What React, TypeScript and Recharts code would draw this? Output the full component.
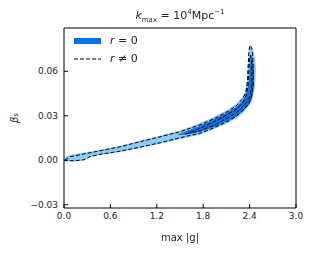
import React from "react";
import { ComposedChart, Area, Line, XAxis, YAxis, Label } from "recharts";

// Light (outer) filled region, r = 0 : vertical slices [low, high]
const lightX = [0.006, 0.052, 0.142, 0.233, 0.284, 0.362, 0.466, 0.724, 0.983, 1.241, 1.5, 1.759, 1.953, 2.121, 2.237, 2.315, 2.341, 2.36, 2.373, 2.379, 2.386, 2.405, 2.425, 2.444, 2.463, 2.476, 2.482];
const lightLow = [-0.0003, -0.0006, -0.0008, -0.0004, 0.001, 0.0026, 0.0035, 0.0055, 0.0082, 0.0112, 0.0142, 0.0172, 0.0212, 0.0252, 0.0286, 0.032, 0.0335, 0.0347, 0.0355, 0.036, 0.0364, 0.0378, 0.0398, 0.0425, 0.047, 0.0535, 0.061];
const lightHigh = [0.0012, 0.0032, 0.0042, 0.005, 0.0054, 0.0061, 0.0069, 0.0097, 0.0131, 0.0166, 0.0201, 0.0252, 0.0297, 0.0343, 0.0384, 0.0432, 0.0462, 0.0505, 0.057, 0.064, 0.0715, 0.0772, 0.0766, 0.0742, 0.071, 0.0665, 0.0635];

// Dark (inner) filled region, r = 0
const darkX = [1.474, 1.629, 1.759, 1.953, 2.121, 2.237, 2.315, 2.366, 2.392, 2.405, 2.418, 2.431, 2.444, 2.457];
const darkLow = [0.0168, 0.0177, 0.019, 0.0226, 0.0266, 0.0299, 0.0333, 0.036, 0.0374, 0.0388, 0.0402, 0.0422, 0.0455, 0.0503];
const darkHigh = [0.0173, 0.0205, 0.0233, 0.028, 0.0325, 0.0362, 0.0403, 0.0462, 0.0545, 0.0645, 0.0712, 0.0698, 0.0665, 0.061];

// Dashed contours, r != 0 (closed paths)
const outerDashX = [0.013, 0.078, 0.207, 0.466, 0.724, 0.983, 1.241, 1.5, 1.759, 1.953, 2.121, 2.237, 2.315, 2.354, 2.373, 2.379, 2.386, 2.392, 2.405, 2.425, 2.437, 2.444, 2.45, 2.444, 2.425, 2.392, 2.328, 2.237, 2.121, 1.953, 1.759, 1.5, 1.241, 0.983, 0.724, 0.466, 0.336, 0.259, 0.142, 0.013, 0.013];
const outerDashY = [0.0003, 0.0024, 0.0037, 0.0064, 0.0091, 0.0125, 0.0158, 0.0192, 0.0239, 0.0283, 0.033, 0.0371, 0.0418, 0.0465, 0.0539, 0.062, 0.0687, 0.0741, 0.0775, 0.0762, 0.0728, 0.066, 0.0573, 0.0499, 0.0431, 0.0384, 0.0344, 0.03, 0.0263, 0.0222, 0.0182, 0.0152, 0.0118, 0.0088, 0.0061, 0.004, 0.0024, 0.0003, -0.0003, -0.0003, 0.0003];
const innerDashX = [1.565, 1.759, 1.953, 2.121, 2.237, 2.315, 2.354, 2.379, 2.392, 2.399, 2.412, 2.425, 2.431, 2.425, 2.399, 2.341, 2.25, 2.121, 1.953, 1.759, 1.565];
const innerDashY = [0.0175, 0.0216, 0.0263, 0.031, 0.0347, 0.0391, 0.0438, 0.0506, 0.0607, 0.0687, 0.0708, 0.066, 0.0573, 0.0485, 0.0425, 0.0377, 0.033, 0.0286, 0.0239, 0.0199, 0.0175];

const xTicks = [0, 0.6, 1.2, 1.8, 2.4, 3.0];
const yTicks = [-0.03, 0, 0.03, 0.06];

const LIGHT = "#8ccbf5";
const DARK = "#0a72e8";
const FONT = "DejaVu Sans";
const DASH = "4 2";

const lightData = lightX.map((x, i) => ({ x, r: [lightLow[i], lightHigh[i]] }));
const darkData = darkX.map((x, i) => ({ x, r: [darkLow[i], darkHigh[i]] }));
const outerData = outerDashX.map((x, i) => ({ x, y: outerDashY[i] }));
const innerData = innerDashX.map((x, i) => ({ x, y: innerDashY[i] }));

const fmtY = (v: number) => (v < 0 ? "\u2212" + Math.abs(v).toFixed(2) : v.toFixed(2));
const fmtX = (v: number) => v.toFixed(1);

const tickStyle = { fontFamily: FONT, fontSize: 9, fill: "#222" };

const YLabel = (props: any) => {
  const vb = props.viewBox || {};
  const cy = vb.y + vb.height / 2;
  const cx = 14;
  return (
    <text x={cx} y={cy} transform={`rotate(-90 ${cx} ${cy})`} textAnchor="middle" dominantBaseline="central" fontFamily={FONT} fontSize={10} fill="#222">
      <tspan fontStyle="italic">β</tspan>
      <tspan fontStyle="italic" fontSize={7} dy={2}>s</tspan>
    </text>
  );
};

export default function App() {
  return (
    <div style={{ position: "fixed", left: 0, top: 0, width: 314, height: 253, background: "#fff" }}>
      <ComposedChart width={314} height={253} margin={{ top: 27, right: 17, bottom: 15, left: 14 }}>
        <XAxis
          xAxisId={0}
          dataKey="x"
          type="number"
          domain={[0, 3]}
          ticks={xTicks}
          tickFormatter={fmtX}
          allowDataOverflow
          height={30}
          stroke="#000"
          tickSize={-4}
          tickMargin={9}
          tick={tickStyle}
          axisLine={{ stroke: "#000", strokeWidth: 1 }}
          tickLine={{ stroke: "#000" }}
        />
        <XAxis
          xAxisId="top"
          orientation="top"
          dataKey="x"
          type="number"
          domain={[0, 3]}
          ticks={xTicks}
          height={1}
          tick={false}
          tickSize={-4}
          stroke="#000"
          axisLine={{ stroke: "#000", strokeWidth: 1 }}
          tickLine={{ stroke: "#000" }}
        />
        <YAxis
          yAxisId={0}
          type="number"
          domain={[-0.0322, 0.0892]}
          ticks={yTicks}
          tickFormatter={fmtY}
          allowDataOverflow
          width={50}
          tickSize={-4}
          tickMargin={10}
          tick={tickStyle}
          axisLine={{ stroke: "#000", strokeWidth: 1 }}
          tickLine={{ stroke: "#000" }}
        >
          <Label content={YLabel} />
        </YAxis>
        <YAxis
          yAxisId="right"
          orientation="right"
          type="number"
          domain={[-0.0322, 0.0892]}
          ticks={yTicks}
          width={1}
          tick={false}
          tickSize={-4}
          stroke="#000"
          axisLine={{ stroke: "#000", strokeWidth: 1 }}
          tickLine={{ stroke: "#000" }}
        />
        <Area data={lightData} dataKey="r" type="linear" fill={LIGHT} fillOpacity={1} stroke="none" isAnimationActive={false} />
        <Area data={darkData} dataKey="r" type="linear" fill={DARK} fillOpacity={1} stroke="none" isAnimationActive={false} />
        <Line data={outerData} dataKey="y" type="linear" stroke="#000" strokeWidth={1} strokeDasharray={DASH} dot={false} activeDot={false} isAnimationActive={false} />
        <Line data={innerData} dataKey="y" type="linear" stroke="#000" strokeWidth={1} strokeDasharray={DASH} dot={false} activeDot={false} isAnimationActive={false} />
      </ComposedChart>

      <div style={{ position: "absolute", left: 0, width: 360, top: 5, textAlign: "center", fontFamily: FONT, fontSize: 11, color: "#222", lineHeight: "14px" }}>
        <i>k</i><sub style={{ fontSize: 7 }}>max</sub> = 10<sup style={{ fontSize: 7 }}>4</sup>Mpc<sup style={{ fontSize: 7 }}>−1</sup>
      </div>

      <div style={{ position: "absolute", left: 0, width: 360, top: 231, textAlign: "center", fontFamily: FONT, fontSize: 10, color: "#222", lineHeight: "14px" }}>
        max |g|
      </div>

      <div style={{ position: "absolute", left: 74, top: 38, width: 27, height: 6, background: DARK }} />
      <div style={{ position: "absolute", left: 110, top: 33, fontFamily: FONT, fontSize: 11, color: "#222", lineHeight: "16px" }}>
        <i>r</i> = 0
      </div>
      <svg style={{ position: "absolute", left: 74, top: 55 }} width={28} height={8}>
        <line x1={0} y1={4} x2={27} y2={4} stroke="#000" strokeWidth={1} strokeDasharray={DASH} />
      </svg>
      <div style={{ position: "absolute", left: 110, top: 51, fontFamily: FONT, fontSize: 11, color: "#222", lineHeight: "16px" }}>
        <i>r</i> ≠ 0
      </div>
    </div>
  );
}
